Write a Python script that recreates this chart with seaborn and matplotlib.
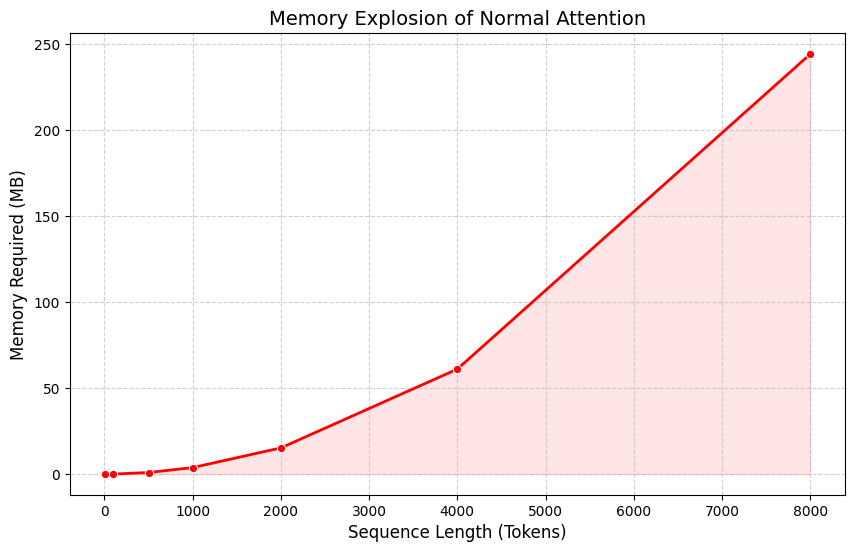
import numpy as np
import pandas as pd
import seaborn as sns
import matplotlib.pyplot as plt

# Longueurs de séquence et mémoire (MB)
seq_lengths = [10, 100, 500, 1000, 2000, 4000, 8000]
memory_mb = [0.0004, 0.04, 0.95, 3.81, 15.26, 61.04, 244.14]

df = pd.DataFrame({"seq_len": seq_lengths, "memory": memory_mb})

fig, ax = plt.subplots(figsize=(8.54, 5.52), dpi=100)
fig.subplots_adjust(left=0.082, right=0.99, top=0.94, bottom=0.103)

sns.lineplot(data=df, x="seq_len", y="memory", marker="o", color="red",
             linewidth=2, markersize=6, markeredgecolor="white", ax=ax)
ax.fill_between(df["seq_len"], df["memory"], color="red", alpha=0.1)

ax.set_title("Memory Explosion of Normal Attention", fontsize=14)
ax.set_xlabel("Sequence Length (Tokens)", fontsize=12)
ax.set_ylabel("Memory Required (MB)", fontsize=12)
ax.grid(True, linestyle="--", alpha=0.6)

plt.savefig("out.png")
plt.close()
